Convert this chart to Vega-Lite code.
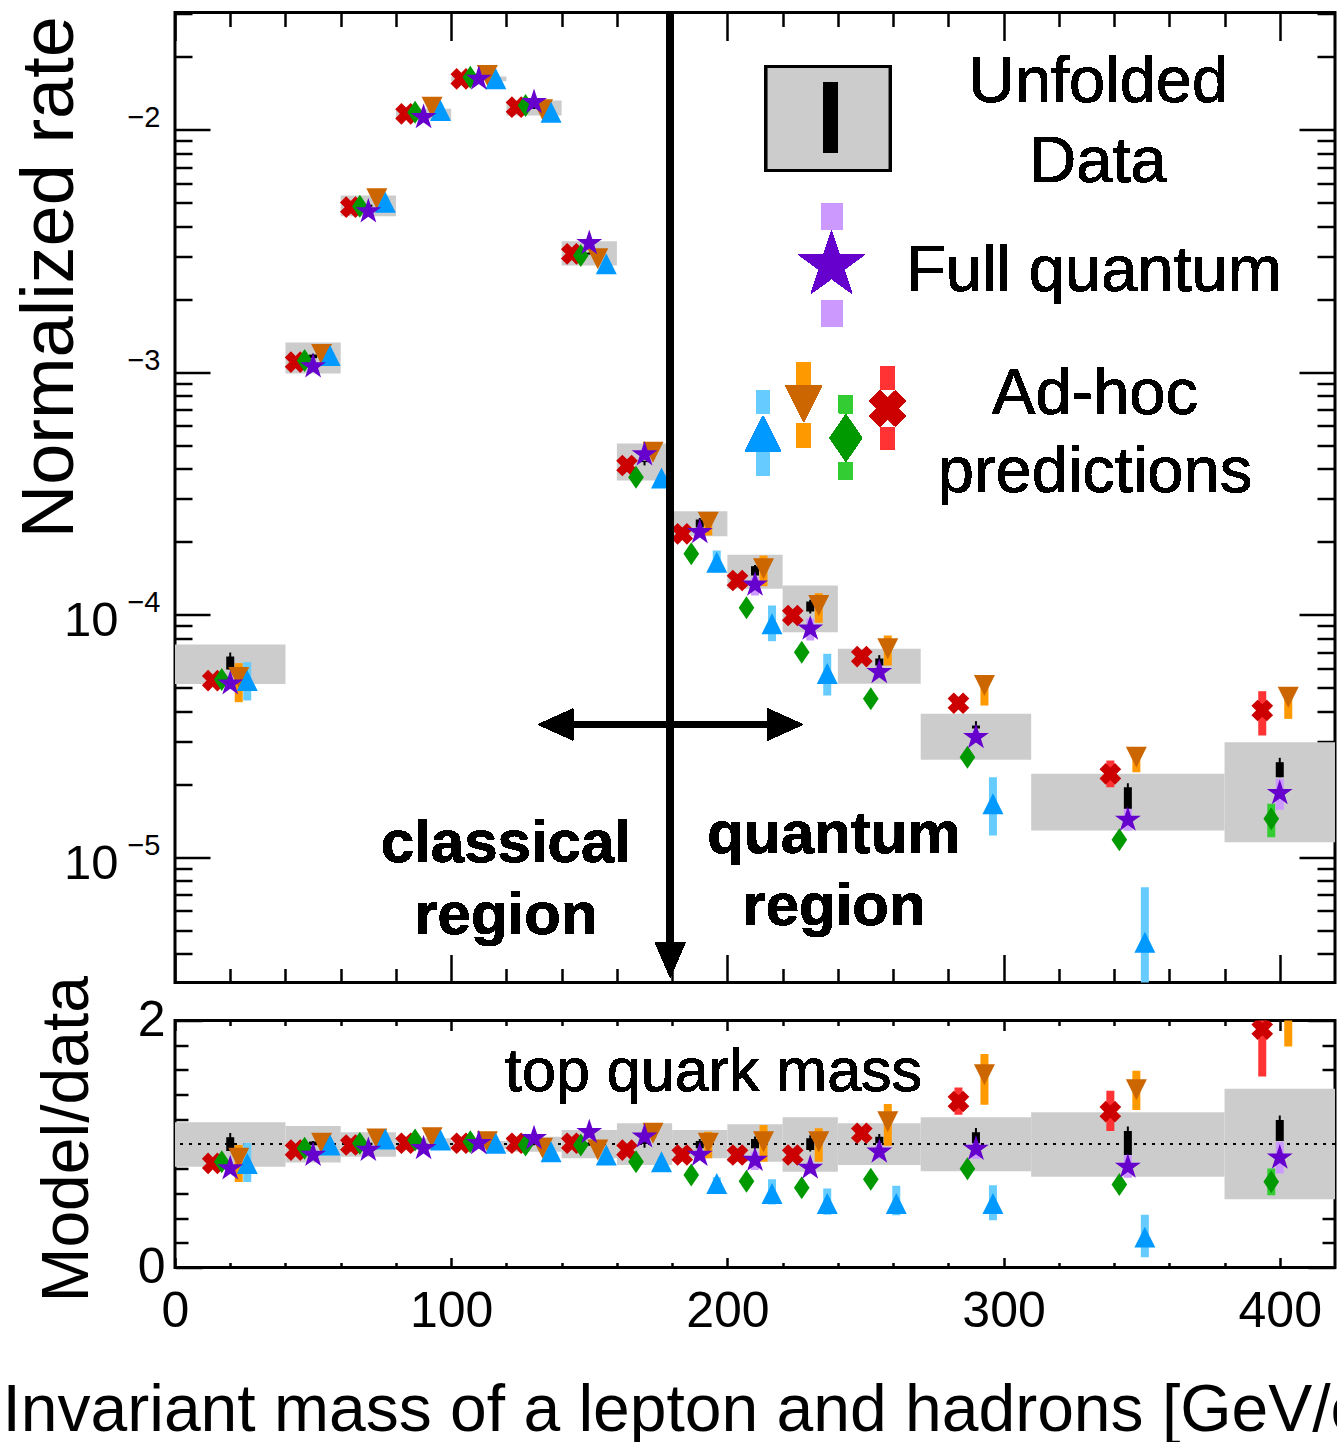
{
"$schema":"https://vega.github.io/schema/vega-lite/v6.json",
"padding":{"left":0,"top":6.5,"right":0,"bottom":0},
"bounds":"flush",
"spacing":38,
"config":{"font":"Liberation Sans","view":{"stroke":"black","strokeWidth":3},"axis":{"grid":false,"domain":false,"labelColor":"black","titleColor":"black","tickColor":"black","titleFontWeight":"normal","labelFlush":false,"labelOverlap":false,"zindex":1,"tickWidth":2.5}},
"datasets":{
"rate":[
{"series":"Unfolded data","bin_lo":0,"bin_hi":40,"mass":20,"value":6.25e-5,"lo":5.17e-5,"hi":7.52e-5,"stat_lo":5.93e-5,"stat_hi":6.71e-5,"tot_lo":5.93e-5,"tot_hi":6.97e-5},
{"series":"Unfolded data","bin_lo":40,"bin_hi":60,"mass":50,"value":1.142e-3,"lo":9.86e-4,"hi":1.323e-3,"stat_lo":1.14e-3,"stat_hi":1.18e-3,"tot_lo":1.13e-3,"tot_hi":1.19e-3},
{"series":"Unfolded data","bin_lo":60,"bin_hi":80,"mass":70,"value":4.847e-3,"lo":4.389e-3,"hi":5.344e-3,"stat_lo":4.8e-3,"stat_hi":4.9e-3,"tot_lo":4.78e-3,"tot_hi":4.92e-3},
{"series":"Unfolded data","bin_lo":80,"bin_hi":100,"mass":90,"value":1.159e-2,"lo":1.096e-2,"hi":1.217e-2,"stat_lo":1.15e-2,"stat_hi":1.17e-2,"tot_lo":1.145e-2,"tot_hi":1.175e-2},
{"series":"Unfolded data","bin_lo":100,"bin_hi":120,"mass":110,"value":1.618e-2,"lo":1.582e-2,"hi":1.654e-2,"stat_lo":1.61e-2,"stat_hi":1.63e-2,"tot_lo":1.605e-2,"tot_hi":1.635e-2},
{"series":"Unfolded data","bin_lo":120,"bin_hi":140,"mass":130,"value":1.227e-2,"lo":1.142e-2,"hi":1.317e-2,"stat_lo":1.22e-2,"stat_hi":1.235e-2,"tot_lo":1.215e-2,"tot_hi":1.24e-2},
{"series":"Unfolded data","bin_lo":140,"bin_hi":160,"mass":150,"value":3.081e-3,"lo":2.749e-3,"hi":3.462e-3,"stat_lo":3.06e-3,"stat_hi":3.1e-3,"tot_lo":3.05e-3,"tot_hi":3.11e-3},
{"series":"Unfolded data","bin_lo":160,"bin_hi":180,"mass":170,"value":4.246e-4,"lo":3.569e-4,"hi":5.073e-4,"stat_lo":4.25e-4,"stat_hi":4.3e-4,"tot_lo":4.12e-4,"tot_hi":4.3e-4},
{"series":"Unfolded data","bin_lo":180,"bin_hi":200,"mass":190,"value":2.373e-4,"lo":2.103e-4,"hi":2.667e-4,"stat_lo":2.285e-4,"stat_hi":2.465e-4,"tot_lo":2.26e-4,"tot_hi":2.5e-4},
{"series":"Unfolded data","bin_lo":200,"bin_hi":220,"mass":210,"value":1.5e-4,"lo":1.276e-4,"hi":1.763e-4,"stat_lo":1.448e-4,"stat_hi":1.582e-4,"tot_lo":1.43e-4,"tot_hi":1.6e-4},
{"series":"Unfolded data","bin_lo":220,"bin_hi":240,"mass":230,"value":1.056e-4,"lo":8.454e-5,"hi":1.317e-4,"stat_lo":1.029e-4,"stat_hi":1.131e-4,"tot_lo":1.01e-4,"tot_hi":1.15e-4},
{"series":"Unfolded data","bin_lo":240,"bin_hi":270,"mass":255,"value":6.114e-5,"lo":5.179e-5,"hi":7.222e-5,"stat_lo":6.161e-5,"stat_hi":6.584e-5,"tot_lo":6.0e-5,"tot_hi":6.8e-5},
{"series":"Unfolded data","bin_lo":270,"bin_hi":310,"mass":290,"value":3.131e-5,"lo":2.517e-5,"hi":3.895e-5,"stat_lo":3.388e-5,"stat_hi":3.485e-5,"tot_lo":3.293e-5,"tot_hi":3.631e-5},
{"series":"Unfolded data","bin_lo":310,"bin_hi":380,"mass":345,"value":1.751e-5,"lo":1.286e-5,"hi":2.203e-5,"stat_lo":1.58e-5,"stat_hi":1.94e-5,"tot_lo":1.58e-5,"tot_hi":2.015e-5},
{"series":"Unfolded data","bin_lo":380,"bin_hi":420,"mass":400,"value":2.065e-5,"lo":1.151e-5,"hi":2.973e-5,"stat_lo":2.134e-5,"stat_hi":2.46e-5,"tot_lo":2.134e-5,"tot_hi":2.565e-5},
{"series":"Full quantum","mass":20,"value":5.19e-5,"lo":5.0e-5,"hi":5.4e-5},
{"series":"Full quantum","mass":50,"value":1.054e-3,"lo":1.02e-3,"hi":1.09e-3},
{"series":"Full quantum","mass":70,"value":4.591e-3,"lo":4.5e-3,"hi":4.68e-3},
{"series":"Full quantum","mass":90,"value":1.124e-2,"lo":1.11e-2,"hi":1.14e-2},
{"series":"Full quantum","mass":110,"value":1.618e-2,"lo":1.6e-2,"hi":1.64e-2},
{"series":"Full quantum","mass":130,"value":1.296e-2,"lo":1.28e-2,"hi":1.31e-2},
{"series":"Full quantum","mass":150,"value":3.397e-3,"lo":3.35e-3,"hi":3.44e-3},
{"series":"Full quantum","mass":170,"value":4.569e-4,"lo":4.5e-4,"hi":4.64e-4},
{"series":"Full quantum","mass":190,"value":2.185e-4,"lo":2.14e-4,"hi":2.23e-4},
{"series":"Full quantum","mass":210,"value":1.326e-4,"lo":1.198e-4,"hi":1.425e-4},
{"series":"Full quantum","mass":230,"value":8.73e-5,"lo":7.813e-5,"hi":9.627e-5},
{"series":"Full quantum","mass":255,"value":5.782e-5,"lo":5.5e-5,"hi":6.1e-5},
{"series":"Full quantum","mass":290,"value":3.119e-5,"lo":2.95e-5,"hi":3.3e-5},
{"series":"Full quantum","mass":345,"value":1.423e-5,"lo":1.286e-5,"hi":1.604e-5},
{"series":"Full quantum","mass":400,"value":1.833e-5,"lo":1.565e-5,"hi":2.101e-5},
{"series":"Ad-hoc 1","mass":20,"value":5.34e-5,"lo":4.42e-5,"hi":6.36e-5},
{"series":"Ad-hoc 1","mass":50,"value":1.17e-3,"lo":1.13e-3,"hi":1.21e-3},
{"series":"Ad-hoc 1","mass":70,"value":5.015e-3,"lo":4.9e-3,"hi":5.13e-3},
{"series":"Ad-hoc 1","mass":90,"value":1.198e-2,"lo":1.18e-2,"hi":1.22e-2},
{"series":"Ad-hoc 1","mass":110,"value":1.618e-2,"lo":1.6e-2,"hi":1.64e-2},
{"series":"Ad-hoc 1","mass":130,"value":1.179e-2,"lo":1.16e-2,"hi":1.2e-2},
{"series":"Ad-hoc 1","mass":150,"value":2.794e-3,"lo":2.74e-3,"hi":2.85e-3},
{"series":"Ad-hoc 1","mass":170,"value":3.656e-4,"lo":3.55e-4,"hi":3.77e-4},
{"series":"Ad-hoc 1","mass":190,"value":1.643e-4,"lo":1.494e-4,"hi":1.836e-4},
{"series":"Ad-hoc 1","mass":210,"value":9.155e-5,"lo":7.761e-5,"hi":1.089e-4},
{"series":"Ad-hoc 1","mass":230,"value":5.711e-5,"lo":4.634e-5,"hi":6.888e-5},
{"series":"Ad-hoc 1","mass":290,"value":1.657e-5,"lo":1.227e-5,"hi":2.134e-5},
{"series":"Ad-hoc 1","mass":345,"value":4.454e-6,"lo":2.5e-6,"hi":7.506e-6},
{"series":"Ad-hoc 2","mass":20,"value":5.5e-5,"lo":4.35e-5,"hi":6.3e-5},
{"series":"Ad-hoc 2","mass":50,"value":1.181e-3,"lo":1.15e-3,"hi":1.21e-3},
{"series":"Ad-hoc 2","mass":70,"value":5.179e-3,"lo":5.08e-3,"hi":5.28e-3},
{"series":"Ad-hoc 2","mass":90,"value":1.236e-2,"lo":1.22e-2,"hi":1.25e-2},
{"series":"Ad-hoc 2","mass":110,"value":1.67e-2,"lo":1.65e-2,"hi":1.69e-2},
{"series":"Ad-hoc 2","mass":130,"value":1.206e-2,"lo":1.19e-2,"hi":1.22e-2},
{"series":"Ad-hoc 2","mass":150,"value":2.93e-3,"lo":2.88e-3,"hi":2.98e-3},
{"series":"Ad-hoc 2","mass":170,"value":4.67e-4,"lo":4.55e-4,"hi":4.8e-4},
{"series":"Ad-hoc 2","mass":190,"value":2.402e-4,"lo":2.117e-4,"hi":2.617e-4},
{"series":"Ad-hoc 2","mass":210,"value":1.543e-4,"lo":1.308e-4,"hi":1.751e-4},
{"series":"Ad-hoc 2","mass":230,"value":1.089e-4,"lo":9.243e-5,"hi":1.224e-4},
{"series":"Ad-hoc 2","mass":255,"value":7.222e-5,"lo":6.161e-5,"hi":8.192e-5},
{"series":"Ad-hoc 2","mass":290,"value":5.095e-5,"lo":4.214e-5,"hi":5.548e-5},
{"series":"Ad-hoc 2","mass":345,"value":2.579e-5,"lo":2.237e-5,"hi":2.802e-5},
{"series":"Ad-hoc 2","mass":400,"value":4.56e-5,"lo":3.713e-5,"hi":5.0e-5},
{"series":"Ad-hoc 3","mass":20,"value":5.39e-5,"lo":5.2e-5,"hi":5.6e-5},
{"series":"Ad-hoc 3","mass":50,"value":1.115e-3,"lo":1.09e-3,"hi":1.14e-3},
{"series":"Ad-hoc 3","mass":70,"value":4.828e-3,"lo":4.75e-3,"hi":4.9e-3},
{"series":"Ad-hoc 3","mass":90,"value":1.179e-2,"lo":1.165e-2,"hi":1.19e-2},
{"series":"Ad-hoc 3","mass":110,"value":1.643e-2,"lo":1.625e-2,"hi":1.66e-2},
{"series":"Ad-hoc 3","mass":130,"value":1.256e-2,"lo":1.24e-2,"hi":1.27e-2},
{"series":"Ad-hoc 3","mass":150,"value":3.023e-3,"lo":2.98e-3,"hi":3.07e-3},
{"series":"Ad-hoc 3","mass":170,"value":3.684e-4,"lo":3.62e-4,"hi":3.75e-4},
{"series":"Ad-hoc 3","mass":190,"value":1.779e-4,"lo":1.75e-4,"hi":1.81e-4},
{"series":"Ad-hoc 3","mass":210,"value":1.066e-4,"lo":1.04e-4,"hi":1.09e-4},
{"series":"Ad-hoc 3","mass":230,"value":6.993e-5,"lo":6.8e-5,"hi":7.2e-5},
{"series":"Ad-hoc 3","mass":255,"value":4.491e-5,"lo":4.35e-5,"hi":4.65e-5},
{"series":"Ad-hoc 3","mass":290,"value":2.579e-5,"lo":2.48e-5,"hi":2.68e-5},
{"series":"Ad-hoc 3","mass":345,"value":1.177e-5,"lo":1.13e-5,"hi":1.23e-5},
{"series":"Ad-hoc 3","mass":400,"value":1.437e-5,"lo":1.206e-5,"hi":1.657e-5},
{"series":"Ad-hoc 4","mass":20,"value":5.34e-5,"lo":5.1e-5,"hi":5.6e-5},
{"series":"Ad-hoc 4","mass":50,"value":1.098e-3,"lo":1.07e-3,"hi":1.13e-3},
{"series":"Ad-hoc 4","mass":70,"value":4.782e-3,"lo":4.7e-3,"hi":4.86e-3},
{"series":"Ad-hoc 4","mass":90,"value":1.161e-2,"lo":1.15e-2,"hi":1.175e-2},
{"series":"Ad-hoc 4","mass":110,"value":1.618e-2,"lo":1.6e-2,"hi":1.64e-2},
{"series":"Ad-hoc 4","mass":130,"value":1.236e-2,"lo":1.22e-2,"hi":1.25e-2},
{"series":"Ad-hoc 4","mass":150,"value":3.072e-3,"lo":3.03e-3,"hi":3.11e-3},
{"series":"Ad-hoc 4","mass":170,"value":4.115e-4,"lo":4.05e-4,"hi":4.18e-4},
{"series":"Ad-hoc 4","mass":190,"value":2.152e-4,"lo":2.11e-4,"hi":2.19e-4},
{"series":"Ad-hoc 4","mass":210,"value":1.381e-4,"lo":1.35e-4,"hi":1.41e-4},
{"series":"Ad-hoc 4","mass":230,"value":9.906e-5,"lo":9.65e-5,"hi":1.015e-4},
{"series":"Ad-hoc 4","mass":255,"value":6.709e-5,"lo":6.5e-5,"hi":6.9e-5},
{"series":"Ad-hoc 4","mass":290,"value":4.307e-5,"lo":4.1e-5,"hi":4.5e-5},
{"series":"Ad-hoc 4","mass":345,"value":2.203e-5,"lo":1.94e-5,"hi":2.5e-5},
{"series":"Ad-hoc 4","mass":400,"value":4.019e-5,"lo":3.17e-5,"hi":4.828e-5}
],
"ratio":[
{"series":"Unfolded data","bin_lo":0,"bin_hi":40,"mass":20,"value":1,"lo":0.815,"hi":1.176,"stat_lo":0.943,"stat_hi":1.054,"tot_lo":0.943,"tot_hi":1.089},
{"series":"Unfolded data","bin_lo":40,"bin_hi":60,"mass":50,"value":1,"lo":0.851,"hi":1.146,"stat_lo":0.99,"stat_hi":1.02,"tot_lo":0.985,"tot_hi":1.025},
{"series":"Unfolded data","bin_lo":60,"bin_hi":80,"mass":70,"value":1,"lo":0.897,"hi":1.095,"stat_lo":0.99,"stat_hi":1.01,"tot_lo":0.985,"tot_hi":1.015},
{"series":"Unfolded data","bin_lo":80,"bin_hi":100,"mass":90,"value":1,"lo":0.951,"hi":1.046,"stat_lo":0.995,"stat_hi":1.005,"tot_lo":0.99,"tot_hi":1.01},
{"series":"Unfolded data","bin_lo":100,"bin_hi":120,"mass":110,"value":1,"lo":0.959,"hi":1.024,"stat_lo":0.995,"stat_hi":1.005,"tot_lo":0.99,"tot_hi":1.01},
{"series":"Unfolded data","bin_lo":120,"bin_hi":140,"mass":130,"value":1,"lo":0.937,"hi":1.059,"stat_lo":0.995,"stat_hi":1.005,"tot_lo":0.99,"tot_hi":1.01},
{"series":"Unfolded data","bin_lo":140,"bin_hi":160,"mass":150,"value":1,"lo":0.884,"hi":1.114,"stat_lo":0.99,"stat_hi":1.01,"tot_lo":0.985,"tot_hi":1.015},
{"series":"Unfolded data","bin_lo":160,"bin_hi":180,"mass":170,"value":1,"lo":0.829,"hi":1.168,"stat_lo":1.0,"stat_hi":1.02,"tot_lo":0.97,"tot_hi":1.02},
{"series":"Unfolded data","bin_lo":180,"bin_hi":200,"mass":190,"value":1,"lo":0.884,"hi":1.114,"stat_lo":0.965,"stat_hi":1.024,"tot_lo":0.95,"tot_hi":1.04},
{"series":"Unfolded data","bin_lo":200,"bin_hi":220,"mass":210,"value":1,"lo":0.856,"hi":1.16,"stat_lo":0.965,"stat_hi":1.041,"tot_lo":0.95,"tot_hi":1.06},
{"series":"Unfolded data","bin_lo":220,"bin_hi":240,"mass":230,"value":1,"lo":0.775,"hi":1.217,"stat_lo":0.951,"stat_hi":1.046,"tot_lo":0.94,"tot_hi":1.07},
{"series":"Unfolded data","bin_lo":240,"bin_hi":270,"mass":255,"value":1,"lo":0.829,"hi":1.168,"stat_lo":1.006,"stat_hi":1.059,"tot_lo":0.99,"tot_hi":1.08},
{"series":"Unfolded data","bin_lo":270,"bin_hi":310,"mass":290,"value":1,"lo":0.78,"hi":1.217,"stat_lo":1.006,"stat_hi":1.095,"tot_lo":1.0,"tot_hi":1.13},
{"series":"Unfolded data","bin_lo":310,"bin_hi":380,"mass":345,"value":1,"lo":0.734,"hi":1.258,"stat_lo":0.911,"stat_hi":1.106,"tot_lo":0.911,"tot_hi":1.141},
{"series":"Unfolded data","bin_lo":380,"bin_hi":420,"mass":400,"value":1,"lo":0.553,"hi":1.447,"stat_lo":1.024,"stat_hi":1.195,"tot_lo":1.024,"tot_hi":1.23},
{"series":"Full quantum","mass":20,"value":0.802,"lo":0.77,"hi":0.83},
{"series":"Full quantum","mass":50,"value":0.911,"lo":0.89,"hi":0.93},
{"series":"Full quantum","mass":70,"value":0.951,"lo":0.94,"hi":0.965},
{"series":"Full quantum","mass":90,"value":0.965,"lo":0.955,"hi":0.975},
{"series":"Full quantum","mass":110,"value":1.006,"lo":0.995,"hi":1.015},
{"series":"Full quantum","mass":130,"value":1.046,"lo":1.035,"hi":1.055},
{"series":"Full quantum","mass":150,"value":1.095,"lo":1.08,"hi":1.11},
{"series":"Full quantum","mass":170,"value":1.06,"lo":1.045,"hi":1.075},
{"series":"Full quantum","mass":190,"value":0.911,"lo":0.89,"hi":0.93},
{"series":"Full quantum","mass":210,"value":0.87,"lo":0.789,"hi":0.937},
{"series":"Full quantum","mass":230,"value":0.807,"lo":0.76,"hi":0.85},
{"series":"Full quantum","mass":255,"value":0.937,"lo":0.88,"hi":0.99},
{"series":"Full quantum","mass":290,"value":0.96,"lo":0.878,"hi":1.041},
{"series":"Full quantum","mass":345,"value":0.815,"lo":0.726,"hi":0.911},
{"series":"Full quantum","mass":400,"value":0.889,"lo":0.762,"hi":1.019},
{"series":"Ad-hoc 1","mass":20,"value":0.843,"lo":0.693,"hi":1.008},
{"series":"Ad-hoc 1","mass":50,"value":0.992,"lo":0.97,"hi":1.015},
{"series":"Ad-hoc 1","mass":70,"value":1.041,"lo":1.02,"hi":1.06},
{"series":"Ad-hoc 1","mass":90,"value":1.033,"lo":1.02,"hi":1.045},
{"series":"Ad-hoc 1","mass":110,"value":1.006,"lo":0.995,"hi":1.015},
{"series":"Ad-hoc 1","mass":130,"value":0.938,"lo":0.925,"hi":0.95},
{"series":"Ad-hoc 1","mass":150,"value":0.911,"lo":0.895,"hi":0.925},
{"series":"Ad-hoc 1","mass":170,"value":0.856,"lo":0.84,"hi":0.87},
{"series":"Ad-hoc 1","mass":190,"value":0.68,"lo":0.63,"hi":0.73},
{"series":"Ad-hoc 1","mass":210,"value":0.599,"lo":0.51,"hi":0.715},
{"series":"Ad-hoc 1","mass":230,"value":0.518,"lo":0.428,"hi":0.64},
{"series":"Ad-hoc 1","mass":255,"value":0.518,"lo":0.423,"hi":0.661},
{"series":"Ad-hoc 1","mass":290,"value":0.518,"lo":0.382,"hi":0.667},
{"series":"Ad-hoc 1","mass":345,"value":0.246,"lo":0.084,"hi":0.428},
{"series":"Ad-hoc 2","mass":20,"value":0.884,"lo":0.693,"hi":0.992},
{"series":"Ad-hoc 2","mass":50,"value":1.006,"lo":0.98,"hi":1.03},
{"series":"Ad-hoc 2","mass":70,"value":1.041,"lo":1.02,"hi":1.06},
{"series":"Ad-hoc 2","mass":90,"value":1.051,"lo":1.035,"hi":1.065},
{"series":"Ad-hoc 2","mass":110,"value":1.019,"lo":1.005,"hi":1.03},
{"series":"Ad-hoc 2","mass":130,"value":0.965,"lo":0.95,"hi":0.98},
{"series":"Ad-hoc 2","mass":150,"value":0.951,"lo":0.935,"hi":0.965},
{"series":"Ad-hoc 2","mass":170,"value":1.087,"lo":1.06,"hi":1.11},
{"series":"Ad-hoc 2","mass":190,"value":1.006,"lo":0.884,"hi":1.1},
{"series":"Ad-hoc 2","mass":210,"value":1.019,"lo":0.856,"hi":1.154},
{"series":"Ad-hoc 2","mass":230,"value":1.019,"lo":0.856,"hi":1.128},
{"series":"Ad-hoc 2","mass":255,"value":1.181,"lo":0.986,"hi":1.323},
{"series":"Ad-hoc 2","mass":290,"value":1.561,"lo":1.317,"hi":1.729},
{"series":"Ad-hoc 2","mass":345,"value":1.439,"lo":1.276,"hi":1.593},
{"series":"Ad-hoc 2","mass":400,"value":2.2,"lo":1.79,"hi":2.6},
{"series":"Ad-hoc 3","mass":20,"value":0.856,"lo":0.83,"hi":0.88},
{"series":"Ad-hoc 3","mass":50,"value":0.965,"lo":0.95,"hi":0.98},
{"series":"Ad-hoc 3","mass":70,"value":1.006,"lo":0.99,"hi":1.02},
{"series":"Ad-hoc 3","mass":90,"value":1.033,"lo":1.02,"hi":1.045},
{"series":"Ad-hoc 3","mass":110,"value":1.019,"lo":1.005,"hi":1.03},
{"series":"Ad-hoc 3","mass":130,"value":0.992,"lo":0.98,"hi":1.005},
{"series":"Ad-hoc 3","mass":150,"value":0.992,"lo":0.98,"hi":1.005},
{"series":"Ad-hoc 3","mass":170,"value":0.856,"lo":0.84,"hi":0.87},
{"series":"Ad-hoc 3","mass":190,"value":0.748,"lo":0.735,"hi":0.76},
{"series":"Ad-hoc 3","mass":210,"value":0.699,"lo":0.685,"hi":0.715},
{"series":"Ad-hoc 3","mass":230,"value":0.645,"lo":0.63,"hi":0.66},
{"series":"Ad-hoc 3","mass":255,"value":0.715,"lo":0.7,"hi":0.73},
{"series":"Ad-hoc 3","mass":290,"value":0.8,"lo":0.78,"hi":0.82},
{"series":"Ad-hoc 3","mass":345,"value":0.672,"lo":0.65,"hi":0.695},
{"series":"Ad-hoc 3","mass":400,"value":0.694,"lo":0.585,"hi":0.802},
{"series":"Ad-hoc 4","mass":20,"value":0.843,"lo":0.82,"hi":0.865},
{"series":"Ad-hoc 4","mass":50,"value":0.951,"lo":0.935,"hi":0.965},
{"series":"Ad-hoc 4","mass":70,"value":0.992,"lo":0.98,"hi":1.005},
{"series":"Ad-hoc 4","mass":90,"value":1.006,"lo":0.995,"hi":1.02},
{"series":"Ad-hoc 4","mass":110,"value":1.006,"lo":0.995,"hi":1.02},
{"series":"Ad-hoc 4","mass":130,"value":1.006,"lo":0.995,"hi":1.02},
{"series":"Ad-hoc 4","mass":150,"value":1.006,"lo":0.99,"hi":1.02},
{"series":"Ad-hoc 4","mass":170,"value":0.951,"lo":0.935,"hi":0.965},
{"series":"Ad-hoc 4","mass":190,"value":0.911,"lo":0.895,"hi":0.925},
{"series":"Ad-hoc 4","mass":210,"value":0.911,"lo":0.895,"hi":0.925},
{"series":"Ad-hoc 4","mass":230,"value":0.911,"lo":0.895,"hi":0.925},
{"series":"Ad-hoc 4","mass":255,"value":1.087,"lo":1.06,"hi":1.11},
{"series":"Ad-hoc 4","mass":290,"value":1.344,"lo":1.236,"hi":1.458},
{"series":"Ad-hoc 4","mass":345,"value":1.262,"lo":1.106,"hi":1.431},
{"series":"Ad-hoc 4","mass":400,"value":1.93,"lo":1.547,"hi":2.35}
]
},
"vconcat":[
{
"width":1160,"height":970,
"data":{"name":"rate"},
"resolve":{"axis":{"x":"independent","y":"independent"}},
"layer":[
{"transform":[{"filter":"datum.series == 'Unfolded data'"}],"mark":{"type":"rect","color":"#cccccc","clip":true},"encoding":{
"x":{"field":"bin_lo","type":"quantitative","scale":{"domain":[0,420],"nice":false,"zero":false},"axis":{"orient":"bottom","values":[0,100,200,300,400],"labels":false,"tickSize":-28,"title":null}},
"x2":{"field":"bin_hi"},
"y":{"field":"lo","type":"quantitative","scale":{"type":"log","domain":[3.0374e-6,0.030374],"nice":false},"axis":{"orient":"left","values":[1e-5,1e-4],"ticks":false,"labelExpr":"'10'","labelFontSize":49,"labelPadding":57,"labelOffset":6,"labelBaseline":"middle","title":"Normalized rate","titleFontSize":74,"titleX":-103,"titleY":3,"titleAlign":"right","titleAngle":270,"titleBaseline":"alphabetic"}},
"y2":{"field":"hi"}}},
{"transform":[{"filter":"datum.series == 'Ad-hoc 4'"}],"mark":{"type":"rule","color":"#ff3333","strokeWidth":8,"xOffset":-17.5,"clip":true},"encoding":{"x":{"field":"mass","type":"quantitative","scale":{"domain":[0,420],"nice":false,"zero":false},"axis":null},"y":{"field":"lo","type":"quantitative","scale":{"type":"log","domain":[3.0374e-6,0.030374],"nice":false},"axis":null},"y2":{"field":"hi"}}},
{"transform":[{"filter":"datum.series == 'Ad-hoc 3'"}],"mark":{"type":"rule","color":"#33cc33","strokeWidth":8,"xOffset":-8.5,"clip":true},"encoding":{"x":{"field":"mass","type":"quantitative","scale":{"domain":[0,420],"nice":false,"zero":false},"axis":null},"y":{"field":"lo","type":"quantitative","scale":{"type":"log","domain":[3.0374e-6,0.030374],"nice":false},"axis":null},"y2":{"field":"hi"}}},
{"transform":[{"filter":"datum.series == 'Full quantum'"}],"mark":{"type":"rule","color":"#cc99ff","strokeWidth":8,"xOffset":0,"clip":true},"encoding":{"x":{"field":"mass","type":"quantitative","scale":{"domain":[0,420],"nice":false,"zero":false},"axis":null},"y":{"field":"lo","type":"quantitative","scale":{"type":"log","domain":[3.0374e-6,0.030374],"nice":false},"axis":null},"y2":{"field":"hi"}}},
{"transform":[{"filter":"datum.series == 'Ad-hoc 2'"}],"mark":{"type":"rule","color":"#ff9900","strokeWidth":8,"xOffset":8.5,"clip":true},"encoding":{"x":{"field":"mass","type":"quantitative","scale":{"domain":[0,420],"nice":false,"zero":false},"axis":null},"y":{"field":"lo","type":"quantitative","scale":{"type":"log","domain":[3.0374e-6,0.030374],"nice":false},"axis":null},"y2":{"field":"hi"}}},
{"transform":[{"filter":"datum.series == 'Ad-hoc 1'"}],"mark":{"type":"rule","color":"#66ccff","strokeWidth":8,"xOffset":17,"clip":true},"encoding":{"x":{"field":"mass","type":"quantitative","scale":{"domain":[0,420],"nice":false,"zero":false},"axis":null},"y":{"field":"lo","type":"quantitative","scale":{"type":"log","domain":[3.0374e-6,0.030374],"nice":false},"axis":null},"y2":{"field":"hi"}}},
{"transform":[{"filter":"datum.series == 'Unfolded data'"}],"mark":{"type":"rule","color":"black","strokeWidth":8,"clip":true},"encoding":{
"x":{"field":"mass","type":"quantitative","scale":{"domain":[0,420],"nice":false,"zero":false},"axis":{"orient":"bottom","values":[20,40,60,80,120,140,160,180,220,240,260,280,320,340,360,380],"labels":false,"tickSize":-14,"title":null}},
"y":{"field":"stat_lo","type":"quantitative","scale":{"type":"log","domain":[3.0374e-6,0.030374],"nice":false},"axis":{"orient":"left","values":[1e-5,1e-4,1e-3,1e-2],"ticks":false,"labelExpr":"datum.value < 3e-5 ? '−5' : datum.value < 3e-4 ? '−4' : datum.value < 3e-3 ? '−3' : '−2'","labelFontSize":29,"labelPadding":15,"labelOffset":-12,"labelBaseline":"middle","title":null}},
"y2":{"field":"stat_hi"}}},
{"transform":[{"filter":"datum.series == 'Unfolded data'"}],"mark":{"type":"rule","color":"black","strokeWidth":2,"clip":true},"encoding":{
"x":{"field":"mass","type":"quantitative","scale":{"domain":[0,420],"nice":false,"zero":false},"axis":{"orient":"top","values":[0,100,200,300,400],"labels":false,"tickSize":-28,"title":null}},
"y":{"field":"tot_lo","type":"quantitative","scale":{"type":"log","domain":[3.0374e-6,0.030374],"nice":false},"axis":{"orient":"left","values":[1e-5,1e-4,1e-3,1e-2],"labels":false,"tickSize":-35,"title":null}},
"y2":{"field":"tot_hi"}}},
{"transform":[{"filter":"datum.series == 'Ad-hoc 4'"}],"mark":{"type":"point","shape":"cross","angle":45,"size":480,"filled":true,"opacity":1,"color":"#cc0000","xOffset":-17.5,"clip":true},"encoding":{"x":{"field":"mass","type":"quantitative","scale":{"domain":[0,420],"nice":false,"zero":false},"axis":null},"y":{"field":"value","type":"quantitative","scale":{"type":"log","domain":[3.0374e-6,0.030374],"nice":false},"axis":null}}},
{"transform":[{"filter":"datum.series == 'Ad-hoc 3'"}],"mark":{"type":"point","shape":"M0,-1L0.68,0L0,1L-0.68,0Z","size":529,"filled":true,"opacity":1,"color":"#009900","xOffset":-8.5,"clip":true},"encoding":{"x":{"field":"mass","type":"quantitative","scale":{"domain":[0,420],"nice":false,"zero":false},"axis":null},"y":{"field":"value","type":"quantitative","scale":{"type":"log","domain":[3.0374e-6,0.030374],"nice":false},"axis":null}}},
{"transform":[{"filter":"datum.series == 'Ad-hoc 2'"}],"mark":{"type":"point","shape":"M-1,-1L1,-1L0,1Z","size":440,"filled":true,"opacity":1,"color":"#cc6600","xOffset":8.5,"clip":true},"encoding":{"x":{"field":"mass","type":"quantitative","scale":{"domain":[0,420],"nice":false,"zero":false},"axis":null},"y":{"field":"value","type":"quantitative","scale":{"type":"log","domain":[3.0374e-6,0.030374],"nice":false},"axis":null}}},
{"transform":[{"filter":"datum.series == 'Ad-hoc 1'"}],"mark":{"type":"point","shape":"M0,-1L1,1L-1,1Z","size":440,"filled":true,"opacity":1,"color":"#0099ff","xOffset":17,"clip":true},"encoding":{"x":{"field":"mass","type":"quantitative","scale":{"domain":[0,420],"nice":false,"zero":false},"axis":null},"y":{"field":"value","type":"quantitative","scale":{"type":"log","domain":[3.0374e-6,0.030374],"nice":false},"axis":null}}},
{"transform":[{"filter":"datum.series == 'Full quantum'"}],"mark":{"type":"point","shape":"M0,-1L0.225,-0.309L0.951,-0.309L0.363,0.118L0.588,0.809L0,0.382L-0.588,0.809L-0.363,0.118L-0.951,-0.309L-0.225,-0.309Z","size":740,"filled":true,"opacity":1,"color":"#6600cc","xOffset":0,"clip":true},"encoding":{"x":{"field":"mass","type":"quantitative","scale":{"domain":[0,420],"nice":false,"zero":false},"axis":null},"y":{"field":"value","type":"quantitative","scale":{"type":"log","domain":[3.0374e-6,0.030374],"nice":false},"axis":null}}},
{"transform":[{"filter":"datum.series == 'Unfolded data'"}],"mark":{"type":"point","opacity":0},"encoding":{
"x":{"field":"mass","type":"quantitative","scale":{"domain":[0,420],"nice":false,"zero":false},"axis":{"orient":"top","values":[20,40,60,80,120,140,160,180,220,240,260,280,320,340,360,380],"labels":false,"tickSize":-14,"title":null}},
"y":{"field":"value","type":"quantitative","scale":{"type":"log","domain":[3.0374e-6,0.030374],"nice":false},"axis":{"orient":"left","values":[4e-6,5e-6,6e-6,7e-6,8e-6,9e-6,2e-5,3e-5,4e-5,5e-5,6e-5,7e-5,8e-5,9e-5,2e-4,3e-4,4e-4,5e-4,6e-4,7e-4,8e-4,9e-4,2e-3,3e-3,4e-3,5e-3,6e-3,7e-3,8e-3,9e-3,2e-2,3e-2],"labels":false,"tickSize":-17,"title":null}}}},
{"transform":[{"filter":"datum.series == 'Unfolded data'"}],"mark":{"type":"point","opacity":0},"encoding":{
"x":{"field":"mass","type":"quantitative","scale":{"domain":[0,420],"nice":false,"zero":false},"axis":null},
"y":{"field":"value","type":"quantitative","scale":{"type":"log","domain":[3.0374e-6,0.030374],"nice":false},"axis":{"orient":"right","values":[1e-5,1e-4,1e-3,1e-2],"labels":false,"tickSize":-36,"title":null}}}},
{"transform":[{"filter":"datum.series == 'Unfolded data'"}],"mark":{"type":"point","opacity":0},"encoding":{
"x":{"field":"mass","type":"quantitative","scale":{"domain":[0,420],"nice":false,"zero":false},"axis":null},
"y":{"field":"value","type":"quantitative","scale":{"type":"log","domain":[3.0374e-6,0.030374],"nice":false},"axis":{"orient":"right","values":[4e-6,5e-6,6e-6,7e-6,8e-6,9e-6,2e-5,3e-5,4e-5,5e-5,6e-5,7e-5,8e-5,9e-5,2e-4,3e-4,4e-4,5e-4,6e-4,7e-4,8e-4,9e-4,2e-3,3e-3,4e-3,5e-3,6e-3,7e-3,8e-3,9e-3,2e-2,3e-2],"labels":false,"tickSize":-18,"title":null}}}},
{"mark":{"type":"rule","color":"black","strokeWidth":7},"encoding":{"x":{"datum":179.3,"type":"quantitative","scale":{"domain":[0,420],"nice":false,"zero":false},"axis":null},"y":{"datum":0.0304,"type":"quantitative","scale":{"type":"log","domain":[3.0374e-6,0.030374],"nice":false},"axis":null},"y2":{"datum":4.3e-6}}},
{"mark":{"type":"point","shape":"M-0.86,-1L0.86,-1L0,1Z","size":1225,"filled":true,"opacity":1,"color":"black"},"encoding":{"x":{"datum":179.3,"type":"quantitative","scale":{"domain":[0,420],"nice":false,"zero":false},"axis":null},"y":{"datum":3.76e-6,"type":"quantitative","scale":{"type":"log","domain":[3.0374e-6,0.030374],"nice":false},"axis":null}}},
{"mark":{"type":"rule","color":"black","strokeWidth":6},"encoding":{"x":{"datum":137.8,"type":"quantitative","scale":{"domain":[0,420],"nice":false,"zero":false},"axis":null},"x2":{"datum":221.0},"y":{"datum":3.518e-5,"type":"quantitative","scale":{"type":"log","domain":[3.0374e-6,0.030374],"nice":false},"axis":null}}},
{"mark":{"type":"point","shape":"M1,-0.9L1,0.9L-1,0Z","size":1225,"filled":true,"opacity":1,"color":"black"},"encoding":{"x":{"datum":137.8,"type":"quantitative","scale":{"domain":[0,420],"nice":false,"zero":false},"axis":null},"y":{"datum":3.518e-5,"type":"quantitative","scale":{"type":"log","domain":[3.0374e-6,0.030374],"nice":false},"axis":null}}},
{"mark":{"type":"point","shape":"M-1,-0.9L-1,0.9L1,0Z","size":1225,"filled":true,"opacity":1,"color":"black"},"encoding":{"x":{"datum":221.0,"type":"quantitative","scale":{"domain":[0,420],"nice":false,"zero":false},"axis":null},"y":{"datum":3.518e-5,"type":"quantitative","scale":{"type":"log","domain":[3.0374e-6,0.030374],"nice":false},"axis":null}}},
{"mark":{"type":"text","text":["classical","region"],"fontSize":60,"fontWeight":"bold","align":"center","baseline":"alphabetic","lineHeight":72,"color":"black"},"encoding":{"x":{"datum":119.8,"type":"quantitative","scale":{"domain":[0,420],"nice":false,"zero":false},"axis":null},"y":{"datum":9.58e-6,"type":"quantitative","scale":{"type":"log","domain":[3.0374e-6,0.030374],"nice":false},"axis":null}}},
{"mark":{"type":"text","text":["quantum","region"],"fontSize":60,"fontWeight":"bold","align":"center","baseline":"alphabetic","lineHeight":72,"color":"black"},"encoding":{"x":{"datum":238.6,"type":"quantitative","scale":{"domain":[0,420],"nice":false,"zero":false},"axis":null},"y":{"datum":1.034e-5,"type":"quantitative","scale":{"type":"log","domain":[3.0374e-6,0.030374],"nice":false},"axis":null}}},
{"mark":{"type":"rect","fill":"#cccccc","stroke":"black","strokeWidth":3},"encoding":{"x":{"datum":214.0,"type":"quantitative","scale":{"domain":[0,420],"nice":false,"zero":false},"axis":null},"x2":{"datum":258.9},"y":{"datum":1.819e-2,"type":"quantitative","scale":{"type":"log","domain":[3.0374e-6,0.030374],"nice":false},"axis":null},"y2":{"datum":6.776e-3}}},
{"mark":{"type":"rule","color":"black","strokeWidth":14},"encoding":{"x":{"datum":237.2,"type":"quantitative","scale":{"domain":[0,420],"nice":false,"zero":false},"axis":null},"y":{"datum":1.567e-2,"type":"quantitative","scale":{"type":"log","domain":[3.0374e-6,0.030374],"nice":false},"axis":null},"y2":{"datum":8.063e-3}}},
{"mark":{"type":"text","text":["Unfolded","Data"],"fontSize":65,"align":"center","baseline":"alphabetic","lineHeight":80,"color":"black"},"encoding":{"x":{"datum":334.2,"type":"quantitative","scale":{"domain":[0,420],"nice":false,"zero":false},"axis":null},"y":{"datum":1.296e-2,"type":"quantitative","scale":{"type":"log","domain":[3.0374e-6,0.030374],"nice":false},"axis":null}}},
{"mark":{"type":"rule","color":"#cc99ff","strokeWidth":21},"encoding":{"x":{"datum":237.9,"type":"quantitative","scale":{"domain":[0,420],"nice":false,"zero":false},"axis":null},"y":{"datum":4.967e-3,"type":"quantitative","scale":{"type":"log","domain":[3.0374e-6,0.030374],"nice":false},"axis":null},"y2":{"datum":3.869e-3}}},
{"mark":{"type":"rule","color":"#cc99ff","strokeWidth":21},"encoding":{"x":{"datum":237.9,"type":"quantitative","scale":{"domain":[0,420],"nice":false,"zero":false},"axis":null},"y":{"datum":1.971e-3,"type":"quantitative","scale":{"type":"log","domain":[3.0374e-6,0.030374],"nice":false},"axis":null},"y2":{"datum":1.54e-3}}},
{"mark":{"type":"point","shape":"M0,-1L0.225,-0.309L0.951,-0.309L0.363,0.118L0.588,0.809L0,0.382L-0.588,0.809L-0.363,0.118L-0.951,-0.309L-0.225,-0.309Z","size":4858,"filled":true,"opacity":1,"color":"#6600cc"},"encoding":{"x":{"datum":237.7,"type":"quantitative","scale":{"domain":[0,420],"nice":false,"zero":false},"axis":null},"y":{"datum":2.753e-3,"type":"quantitative","scale":{"type":"log","domain":[3.0374e-6,0.030374],"nice":false},"axis":null}}},
{"mark":{"type":"text","text":"Full quantum","fontSize":65,"align":"left","baseline":"alphabetic","color":"black"},"encoding":{"x":{"datum":264.7,"type":"quantitative","scale":{"domain":[0,420],"nice":false,"zero":false},"axis":null},"y":{"datum":2.154e-3,"type":"quantitative","scale":{"type":"log","domain":[3.0374e-6,0.030374],"nice":false},"axis":null}}},
{"mark":{"type":"rule","color":"#66ccff","strokeWidth":14},"encoding":{"x":{"datum":212.9,"type":"quantitative","scale":{"domain":[0,420],"nice":false,"zero":false},"axis":null},"y":{"datum":8.388e-4,"type":"quantitative","scale":{"type":"log","domain":[3.0374e-6,0.030374],"nice":false},"axis":null},"y2":{"datum":6.722e-4}}},
{"mark":{"type":"rule","color":"#66ccff","strokeWidth":14},"encoding":{"x":{"datum":212.9,"type":"quantitative","scale":{"domain":[0,420],"nice":false,"zero":false},"axis":null},"y":{"datum":4.67e-4,"type":"quantitative","scale":{"type":"log","domain":[3.0374e-6,0.030374],"nice":false},"axis":null},"y2":{"datum":3.744e-4}}},
{"mark":{"type":"point","shape":"M0,-1L1,1L-1,1Z","size":1296,"filled":true,"opacity":1,"color":"#0099ff"},"encoding":{"x":{"datum":212.9,"type":"quantitative","scale":{"domain":[0,420],"nice":false,"zero":false},"axis":null},"y":{"datum":5.561e-4,"type":"quantitative","scale":{"type":"log","domain":[3.0374e-6,0.030374],"nice":false},"axis":null}}},
{"mark":{"type":"rule","color":"#ff9900","strokeWidth":14},"encoding":{"x":{"datum":227.6,"type":"quantitative","scale":{"domain":[0,420],"nice":false,"zero":false},"axis":null},"y":{"datum":1.098e-3,"type":"quantitative","scale":{"type":"log","domain":[3.0374e-6,0.030374],"nice":false},"axis":null},"y2":{"datum":8.795e-4}}},
{"mark":{"type":"rule","color":"#ff9900","strokeWidth":14},"encoding":{"x":{"datum":227.6,"type":"quantitative","scale":{"domain":[0,420],"nice":false,"zero":false},"axis":null},"y":{"datum":6.114e-4,"type":"quantitative","scale":{"type":"log","domain":[3.0374e-6,0.030374],"nice":false},"axis":null},"y2":{"datum":4.897e-4}}},
{"mark":{"type":"point","shape":"M-1,-1L1,-1L0,1Z","size":1332,"filled":true,"opacity":1,"color":"#cc6600"},"encoding":{"x":{"datum":227.6,"type":"quantitative","scale":{"domain":[0,420],"nice":false,"zero":false},"axis":null},"y":{"datum":7.396e-4,"type":"quantitative","scale":{"type":"log","domain":[3.0374e-6,0.030374],"nice":false},"axis":null}}},
{"mark":{"type":"rule","color":"#33cc33","strokeWidth":14},"encoding":{"x":{"datum":242.9,"type":"quantitative","scale":{"domain":[0,420],"nice":false,"zero":false},"axis":null},"y":{"datum":7.998e-4,"type":"quantitative","scale":{"type":"log","domain":[3.0374e-6,0.030374],"nice":false},"axis":null},"y2":{"datum":6.761e-4}}},
{"mark":{"type":"rule","color":"#33cc33","strokeWidth":14},"encoding":{"x":{"datum":242.9,"type":"quantitative","scale":{"domain":[0,420],"nice":false,"zero":false},"axis":null},"y":{"datum":4.246e-4,"type":"quantitative","scale":{"type":"log","domain":[3.0374e-6,0.030374],"nice":false},"axis":null},"y2":{"datum":3.593e-4}}},
{"mark":{"type":"point","shape":"M0,-1L0.68,0L0,1L-0.68,0Z","size":2237,"filled":true,"opacity":1,"color":"#009900"},"encoding":{"x":{"datum":242.9,"type":"quantitative","scale":{"domain":[0,420],"nice":false,"zero":false},"axis":null},"y":{"datum":5.343e-4,"type":"quantitative","scale":{"type":"log","domain":[3.0374e-6,0.030374],"nice":false},"axis":null}}},
{"mark":{"type":"rule","color":"#ff3333","strokeWidth":14},"encoding":{"x":{"datum":258.0,"type":"quantitative","scale":{"domain":[0,420],"nice":false,"zero":false},"axis":null},"y":{"datum":1.054e-3,"type":"quantitative","scale":{"type":"log","domain":[3.0374e-6,0.030374],"nice":false},"axis":null},"y2":{"datum":8.444e-4}}},
{"mark":{"type":"rule","color":"#ff3333","strokeWidth":14},"encoding":{"x":{"datum":258.0,"type":"quantitative","scale":{"domain":[0,420],"nice":false,"zero":false},"axis":null},"y":{"datum":5.921e-4,"type":"quantitative","scale":{"type":"log","domain":[3.0374e-6,0.030374],"nice":false},"axis":null},"y2":{"datum":4.777e-4}}},
{"mark":{"type":"point","shape":"cross","angle":45,"size":1330,"filled":true,"opacity":1,"color":"#cc0000"},"encoding":{"x":{"datum":258.0,"type":"quantitative","scale":{"domain":[0,420],"nice":false,"zero":false},"axis":null},"y":{"datum":7.072e-4,"type":"quantitative","scale":{"type":"log","domain":[3.0374e-6,0.030374],"nice":false},"axis":null}}},
{"mark":{"type":"text","text":["Ad-hoc","predictions"],"fontSize":65,"align":"center","baseline":"alphabetic","lineHeight":78,"color":"black"},"encoding":{"x":{"datum":333.1,"type":"quantitative","scale":{"domain":[0,420],"nice":false,"zero":false},"axis":null},"y":{"datum":6.722e-4,"type":"quantitative","scale":{"type":"log","domain":[3.0374e-6,0.030374],"nice":false},"axis":null}}}
]
},
{
"width":1160,"height":247,
"data":{"name":"ratio"},
"resolve":{"axis":{"x":"independent","y":"independent"}},
"layer":[
{"transform":[{"filter":"datum.series == 'Unfolded data'"}],"mark":{"type":"rect","color":"#cccccc","clip":true},"encoding":{
"x":{"field":"bin_lo","type":"quantitative","scale":{"domain":[0,420],"nice":false,"zero":false},"axis":{"orient":"bottom","values":[0,100,200,300,400],"format":"d","ticks":false,"labelFontSize":50,"labelPadding":19,"labelBaseline":"top","title":"Invariant mass of a lepton and hadrons [GeV/c²]","titleFontSize":66,"titleX":-173,"titleY":163,"titleAlign":"left","titleAnchor":"start","titleBaseline":"alphabetic","titleAngle":0}},
"x2":{"field":"bin_hi"},
"y":{"field":"lo","type":"quantitative","scale":{"domain":[0,2],"nice":false,"zero":false},"axis":{"orient":"left","values":[0,1,2],"format":"d","ticks":false,"labelFontSize":50,"labelPadding":10,"labelBaseline":"middle","title":"Model/data","titleFontSize":66,"titleX":-88,"titleY":-45,"titleAlign":"right","titleAngle":270,"titleBaseline":"alphabetic"}},
"y2":{"field":"hi"}}},
{"mark":{"type":"rule","color":"black","strokeWidth":2,"strokeDash":[3,6]},"encoding":{"y":{"datum":1,"type":"quantitative","scale":{"domain":[0,2],"nice":false,"zero":false},"axis":null}}},
{"transform":[{"filter":"datum.series == 'Ad-hoc 4'"}],"mark":{"type":"rule","color":"#ff3333","strokeWidth":8,"xOffset":-17.5,"clip":true},"encoding":{"x":{"field":"mass","type":"quantitative","scale":{"domain":[0,420],"nice":false,"zero":false},"axis":null},"y":{"field":"lo","type":"quantitative","scale":{"domain":[0,2],"nice":false,"zero":false},"axis":null},"y2":{"field":"hi"}}},
{"transform":[{"filter":"datum.series == 'Ad-hoc 3'"}],"mark":{"type":"rule","color":"#33cc33","strokeWidth":8,"xOffset":-8.5,"clip":true},"encoding":{"x":{"field":"mass","type":"quantitative","scale":{"domain":[0,420],"nice":false,"zero":false},"axis":null},"y":{"field":"lo","type":"quantitative","scale":{"domain":[0,2],"nice":false,"zero":false},"axis":null},"y2":{"field":"hi"}}},
{"transform":[{"filter":"datum.series == 'Full quantum'"}],"mark":{"type":"rule","color":"#cc99ff","strokeWidth":8,"xOffset":0,"clip":true},"encoding":{"x":{"field":"mass","type":"quantitative","scale":{"domain":[0,420],"nice":false,"zero":false},"axis":null},"y":{"field":"lo","type":"quantitative","scale":{"domain":[0,2],"nice":false,"zero":false},"axis":null},"y2":{"field":"hi"}}},
{"transform":[{"filter":"datum.series == 'Ad-hoc 2'"}],"mark":{"type":"rule","color":"#ff9900","strokeWidth":8,"xOffset":8.5,"clip":true},"encoding":{"x":{"field":"mass","type":"quantitative","scale":{"domain":[0,420],"nice":false,"zero":false},"axis":null},"y":{"field":"lo","type":"quantitative","scale":{"domain":[0,2],"nice":false,"zero":false},"axis":null},"y2":{"field":"hi"}}},
{"transform":[{"filter":"datum.series == 'Ad-hoc 1'"}],"mark":{"type":"rule","color":"#66ccff","strokeWidth":8,"xOffset":17,"clip":true},"encoding":{"x":{"field":"mass","type":"quantitative","scale":{"domain":[0,420],"nice":false,"zero":false},"axis":null},"y":{"field":"lo","type":"quantitative","scale":{"domain":[0,2],"nice":false,"zero":false},"axis":null},"y2":{"field":"hi"}}},
{"transform":[{"filter":"datum.series == 'Unfolded data'"}],"mark":{"type":"rule","color":"black","strokeWidth":8,"clip":true},"encoding":{
"x":{"field":"mass","type":"quantitative","scale":{"domain":[0,420],"nice":false,"zero":false},"axis":{"orient":"bottom","values":[0,100,200,300,400],"labels":false,"tickSize":-10,"title":null}},
"y":{"field":"stat_lo","type":"quantitative","scale":{"domain":[0,2],"nice":false,"zero":false},"axis":{"orient":"left","values":[0,1,2],"labels":false,"tickSize":-27,"title":null}},
"y2":{"field":"stat_hi"}}},
{"transform":[{"filter":"datum.series == 'Unfolded data'"}],"mark":{"type":"rule","color":"black","strokeWidth":2,"clip":true},"encoding":{
"x":{"field":"mass","type":"quantitative","scale":{"domain":[0,420],"nice":false,"zero":false},"axis":{"orient":"bottom","values":[20,40,60,80,120,140,160,180,220,240,260,280,320,340,360,380],"labels":false,"tickSize":-5,"title":null}},
"y":{"field":"tot_lo","type":"quantitative","scale":{"domain":[0,2],"nice":false,"zero":false},"axis":{"orient":"left","values":[0.2,0.4,0.6,0.8,1.2,1.4,1.6,1.8],"labels":false,"tickSize":-13,"title":null}},
"y2":{"field":"tot_hi"}}},
{"transform":[{"filter":"datum.series == 'Ad-hoc 4'"}],"mark":{"type":"point","shape":"cross","angle":45,"size":480,"filled":true,"opacity":1,"color":"#cc0000","xOffset":-17.5,"clip":true},"encoding":{"x":{"field":"mass","type":"quantitative","scale":{"domain":[0,420],"nice":false,"zero":false},"axis":null},"y":{"field":"value","type":"quantitative","scale":{"domain":[0,2],"nice":false,"zero":false},"axis":null}}},
{"transform":[{"filter":"datum.series == 'Ad-hoc 3'"}],"mark":{"type":"point","shape":"M0,-1L0.68,0L0,1L-0.68,0Z","size":529,"filled":true,"opacity":1,"color":"#009900","xOffset":-8.5,"clip":true},"encoding":{"x":{"field":"mass","type":"quantitative","scale":{"domain":[0,420],"nice":false,"zero":false},"axis":null},"y":{"field":"value","type":"quantitative","scale":{"domain":[0,2],"nice":false,"zero":false},"axis":null}}},
{"transform":[{"filter":"datum.series == 'Ad-hoc 2'"}],"mark":{"type":"point","shape":"M-1,-1L1,-1L0,1Z","size":440,"filled":true,"opacity":1,"color":"#cc6600","xOffset":8.5,"clip":true},"encoding":{"x":{"field":"mass","type":"quantitative","scale":{"domain":[0,420],"nice":false,"zero":false},"axis":null},"y":{"field":"value","type":"quantitative","scale":{"domain":[0,2],"nice":false,"zero":false},"axis":null}}},
{"transform":[{"filter":"datum.series == 'Ad-hoc 1'"}],"mark":{"type":"point","shape":"M0,-1L1,1L-1,1Z","size":440,"filled":true,"opacity":1,"color":"#0099ff","xOffset":17,"clip":true},"encoding":{"x":{"field":"mass","type":"quantitative","scale":{"domain":[0,420],"nice":false,"zero":false},"axis":null},"y":{"field":"value","type":"quantitative","scale":{"domain":[0,2],"nice":false,"zero":false},"axis":null}}},
{"transform":[{"filter":"datum.series == 'Full quantum'"}],"mark":{"type":"point","shape":"M0,-1L0.225,-0.309L0.951,-0.309L0.363,0.118L0.588,0.809L0,0.382L-0.588,0.809L-0.363,0.118L-0.951,-0.309L-0.225,-0.309Z","size":740,"filled":true,"opacity":1,"color":"#6600cc","xOffset":0,"clip":true},"encoding":{"x":{"field":"mass","type":"quantitative","scale":{"domain":[0,420],"nice":false,"zero":false},"axis":null},"y":{"field":"value","type":"quantitative","scale":{"domain":[0,2],"nice":false,"zero":false},"axis":null}}},
{"transform":[{"filter":"datum.series == 'Unfolded data'"}],"mark":{"type":"point","opacity":0},"encoding":{
"x":{"field":"mass","type":"quantitative","scale":{"domain":[0,420],"nice":false,"zero":false},"axis":{"orient":"top","values":[0,100,200,300,400],"labels":false,"tickSize":-10,"title":null}},
"y":{"field":"value","type":"quantitative","scale":{"domain":[0,2],"nice":false,"zero":false},"axis":{"orient":"right","values":[0,1,2],"labels":false,"tickSize":-27,"title":null}}}},
{"transform":[{"filter":"datum.series == 'Unfolded data'"}],"mark":{"type":"point","opacity":0},"encoding":{
"x":{"field":"mass","type":"quantitative","scale":{"domain":[0,420],"nice":false,"zero":false},"axis":{"orient":"top","values":[20,40,60,80,120,140,160,180,220,240,260,280,320,340,360,380],"labels":false,"tickSize":-5,"title":null}},
"y":{"field":"value","type":"quantitative","scale":{"domain":[0,2],"nice":false,"zero":false},"axis":{"orient":"right","values":[0.2,0.4,0.6,0.8,1.2,1.4,1.6,1.8],"labels":false,"tickSize":-13,"title":null}}}},
{"mark":{"type":"text","text":"top quark mass","fontSize":61,"align":"center","baseline":"alphabetic","color":"black"},"encoding":{"x":{"datum":195,"type":"quantitative","scale":{"domain":[0,420],"nice":false,"zero":false},"axis":null},"y":{"datum":1.431,"type":"quantitative","scale":{"domain":[0,2],"nice":false,"zero":false},"axis":null}}}
]
}
]
}
